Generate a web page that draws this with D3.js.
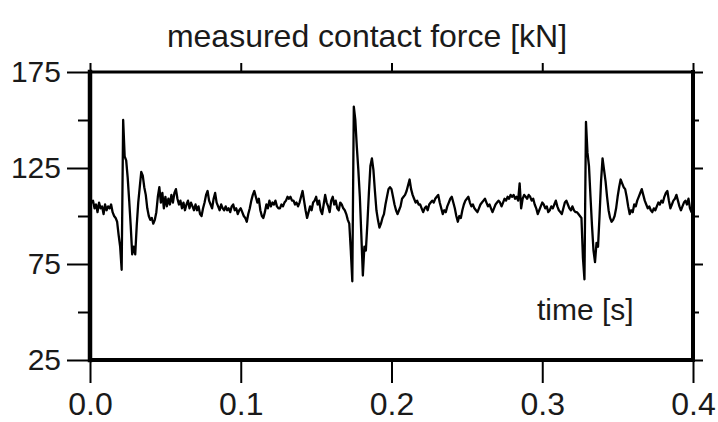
<!DOCTYPE html>
<html lang="en">
<head>
<meta charset="utf-8">
<title>measured contact force</title>
<script src="https://d3js.org/d3.v7.min.js"></script>
<style>
  body { margin: 0; background: #fff; }
  text { font-family: "Liberation Sans", Arial, Helvetica, sans-serif; fill: #1a1a1a; }
</style>
</head>
<body>
<svg id="chart"></svg>
<script>
// sampled signal, one value per ms, starting at t = 0 s
var sampleStep = 0.001;
var force = [
  110,107,108,104,106,102,107,104,105,101,
  106,103,105,104,106,102,100,99,97,90,
  84,72,150,131,129,120,108,95,80,84,
  80,95,107,115,123,121,115,111,104,100,
  98,99,96,98,102,110,115,107,112,104,
  110,105,109,106,111,107,112,114,109,106,
  108,104,107,103,106,108,104,107,105,103,
  106,103,105,101,100,104,107,111,113,108,
  106,104,109,112,107,105,103,106,104,103,
  105,103,104,102,105,106,103,104,101,103,
  104,102,100,99,97,101,104,108,111,113,
  110,107,109,103,100,99,102,106,104,108,
  105,107,106,108,105,104,104,106,105,107,
  108,110,109,110,108,108,106,107,105,107,
  110,113,108,103,99,102,105,103,107,108,
  110,106,108,103,101,106,111,107,105,102,
  108,110,106,108,104,103,107,106,104,103,
  101,98,96,82,66,157,150,136,124,110,
  90,69,84,82,96,112,126,130,124,113,
  103,98,94,96,99,101,106,110,114,115,
  114,110,106,103,101,103,105,109,110,111,
  113,116,119,114,111,109,107,108,106,106,
  104,102,104,105,103,106,107,108,107,109,
  110,111,107,104,101,103,102,105,107,109,
  110,107,104,100,97,100,99,103,106,108,
  109,110,107,105,106,104,103,102,104,106,
  107,108,109,107,105,106,104,102,104,106,
  107,108,107,105,107,109,108,110,109,111,
  110,111,109,110,108,117,104,109,111,110,
  109,111,110,108,109,106,104,101,103,105,
  107,106,104,105,102,103,105,104,106,108,
  105,103,102,101,104,107,108,106,104,103,
  105,103,102,102,101,100,99,78,67,149,
  133,126,110,95,82,76,86,84,100,118,
  130,124,118,110,103,99,97,98,100,104,
  110,115,119,117,115,114,110,105,101,103,
  102,106,105,108,110,112,114,111,108,106,
  104,105,103,102,104,103,105,107,106,108,
  107,110,112,113,108,104,106,108,109,111,
  108,105,103,105,107,108,106,109,104,102,
  103
];
var xTicks = [0, 0.1, 0.2, 0.3, 0.4];
var yTicks = [25, 75, 125, 175];
var yMinor = [50, 100, 150];

var width = 718, height = 422;
var svg = d3.select("#chart").attr("width", width).attr("height", height);

var x = d3.scaleLinear().domain([0, 0.4]).range([90, 693]);
var y = d3.scaleLinear().domain([25, 175]).range([360, 72]);

function clean(g) {
  g.select(".domain").remove();
  g.selectAll(".tick line").attr("stroke", "#000").attr("stroke-width", 2);
  g.selectAll(".tick text").attr("fill", "#1a1a1a").attr("font-family", null);
}

// bottom
svg.append("g").attr("transform", "translate(0,360)")
  .call(d3.axisBottom(x).tickValues(xTicks).tickSize(23).tickPadding(9).tickFormat(d3.format(".1f")))
  .call(clean)
  .selectAll("text").attr("font-size", 32);
// top
svg.append("g").attr("transform", "translate(0,72)")
  .call(d3.axisTop(x).tickValues(xTicks).tickSize(9).tickFormat(""))
  .call(clean);
// left
svg.append("g").attr("transform", "translate(90,0)")
  .call(d3.axisLeft(y).tickValues(yTicks).tickSize(23).tickPadding(6))
  .call(clean)
  .selectAll("text").attr("font-size", 30);
svg.append("g").attr("transform", "translate(90,0)")
  .call(d3.axisLeft(y).tickValues(yMinor).tickSize(12).tickFormat(""))
  .call(clean);
// right
svg.append("g").attr("transform", "translate(693,0)")
  .call(d3.axisRight(y).tickValues(yTicks).tickSize(10).tickFormat(""))
  .call(clean);
svg.append("g").attr("transform", "translate(693,0)")
  .call(d3.axisRight(y).tickValues(yMinor).tickSize(6).tickFormat(""))
  .call(clean);

// frame
var frame = svg.append("g").attr("stroke", "#000").attr("stroke-linecap", "square");
frame.append("line").attr("x1", 90).attr("x2", 693).attr("y1", 72).attr("y2", 72).attr("stroke-width", 3);
frame.append("line").attr("x1", 90).attr("x2", 693).attr("y1", 360).attr("y2", 360).attr("stroke-width", 4);
frame.append("line").attr("x1", 90).attr("x2", 90).attr("y1", 72).attr("y2", 360).attr("stroke-width", 4.5);
frame.append("line").attr("x1", 693).attr("x2", 693).attr("y1", 72).attr("y2", 360).attr("stroke-width", 4);

// signal
var line = d3.line()
  .x(function(d, i) { return x(i * sampleStep); })
  .y(function(d) { return y(d); });

svg.append("path")
  .datum(force)
  .attr("fill", "none")
  .attr("stroke", "#000")
  .attr("stroke-width", 2.3)
  .attr("stroke-linejoin", "round")
  .attr("d", line);

svg.append("text")
  .attr("x", 367).attr("y", 47)
  .attr("text-anchor", "middle")
  .attr("font-size", 32)
  .text("measured contact force [kN]");

svg.append("text")
  .attr("x", 537).attr("y", 320)
  .attr("font-size", 30)
  .text("time [s]");
</script>
</body>
</html>
